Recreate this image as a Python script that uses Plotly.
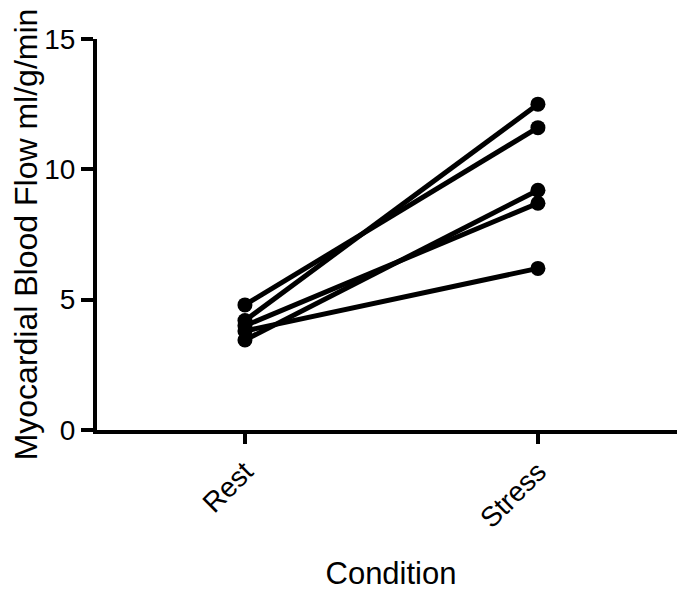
import plotly.graph_objects as go

conditions = ["Rest", "Stress"]
rest_values = [4.8, 4.2, 4.0, 3.8, 3.45]
stress_values = [11.6, 12.5, 8.7, 6.2, 9.2]
y_tickvals = [0, 5, 10, 15]

fig = go.Figure()
for r, s in zip(rest_values, stress_values):
    fig.add_trace(go.Scatter(
        x=[0, 1], y=[r, s], mode="lines+markers",
        line=dict(color="black", width=5),
        marker=dict(color="black", size=15),
        showlegend=False, cliponaxis=False,
    ))

font_family = "Liberation Sans, Arial, Helvetica, sans-serif"
fig.update_layout(
    width=677, height=583,
    margin=dict(l=89, r=0, t=31, b=161),
    plot_bgcolor="white", paper_bgcolor="white",
    font=dict(family=font_family, color="black", size=28),
    xaxis=dict(
        range=[-0.505, 1.502], tickvals=[0, 1], ticktext=conditions,
        tickangle=-45, showgrid=False, zeroline=False, automargin=False,
        showline=True, linecolor="black", linewidth=4,
        ticks="outside", ticklen=10, tickwidth=4, tickcolor="black",
        tickfont=dict(size=28),
        title=dict(text="Condition", font=dict(size=31), standoff=30),
    ),
    yaxis=dict(
        range=[0, 15], tickvals=y_tickvals, showgrid=False, zeroline=False,
        automargin=False,
        showline=True, linecolor="black", linewidth=4,
        ticks="outside", ticklen=12, tickwidth=4, tickcolor="black",
        tickfont=dict(size=28),
        title=dict(text="Myocardial Blood Flow ml/g/min", font=dict(size=32), standoff=10),
    ),
)
fig.write_html("out.html")
